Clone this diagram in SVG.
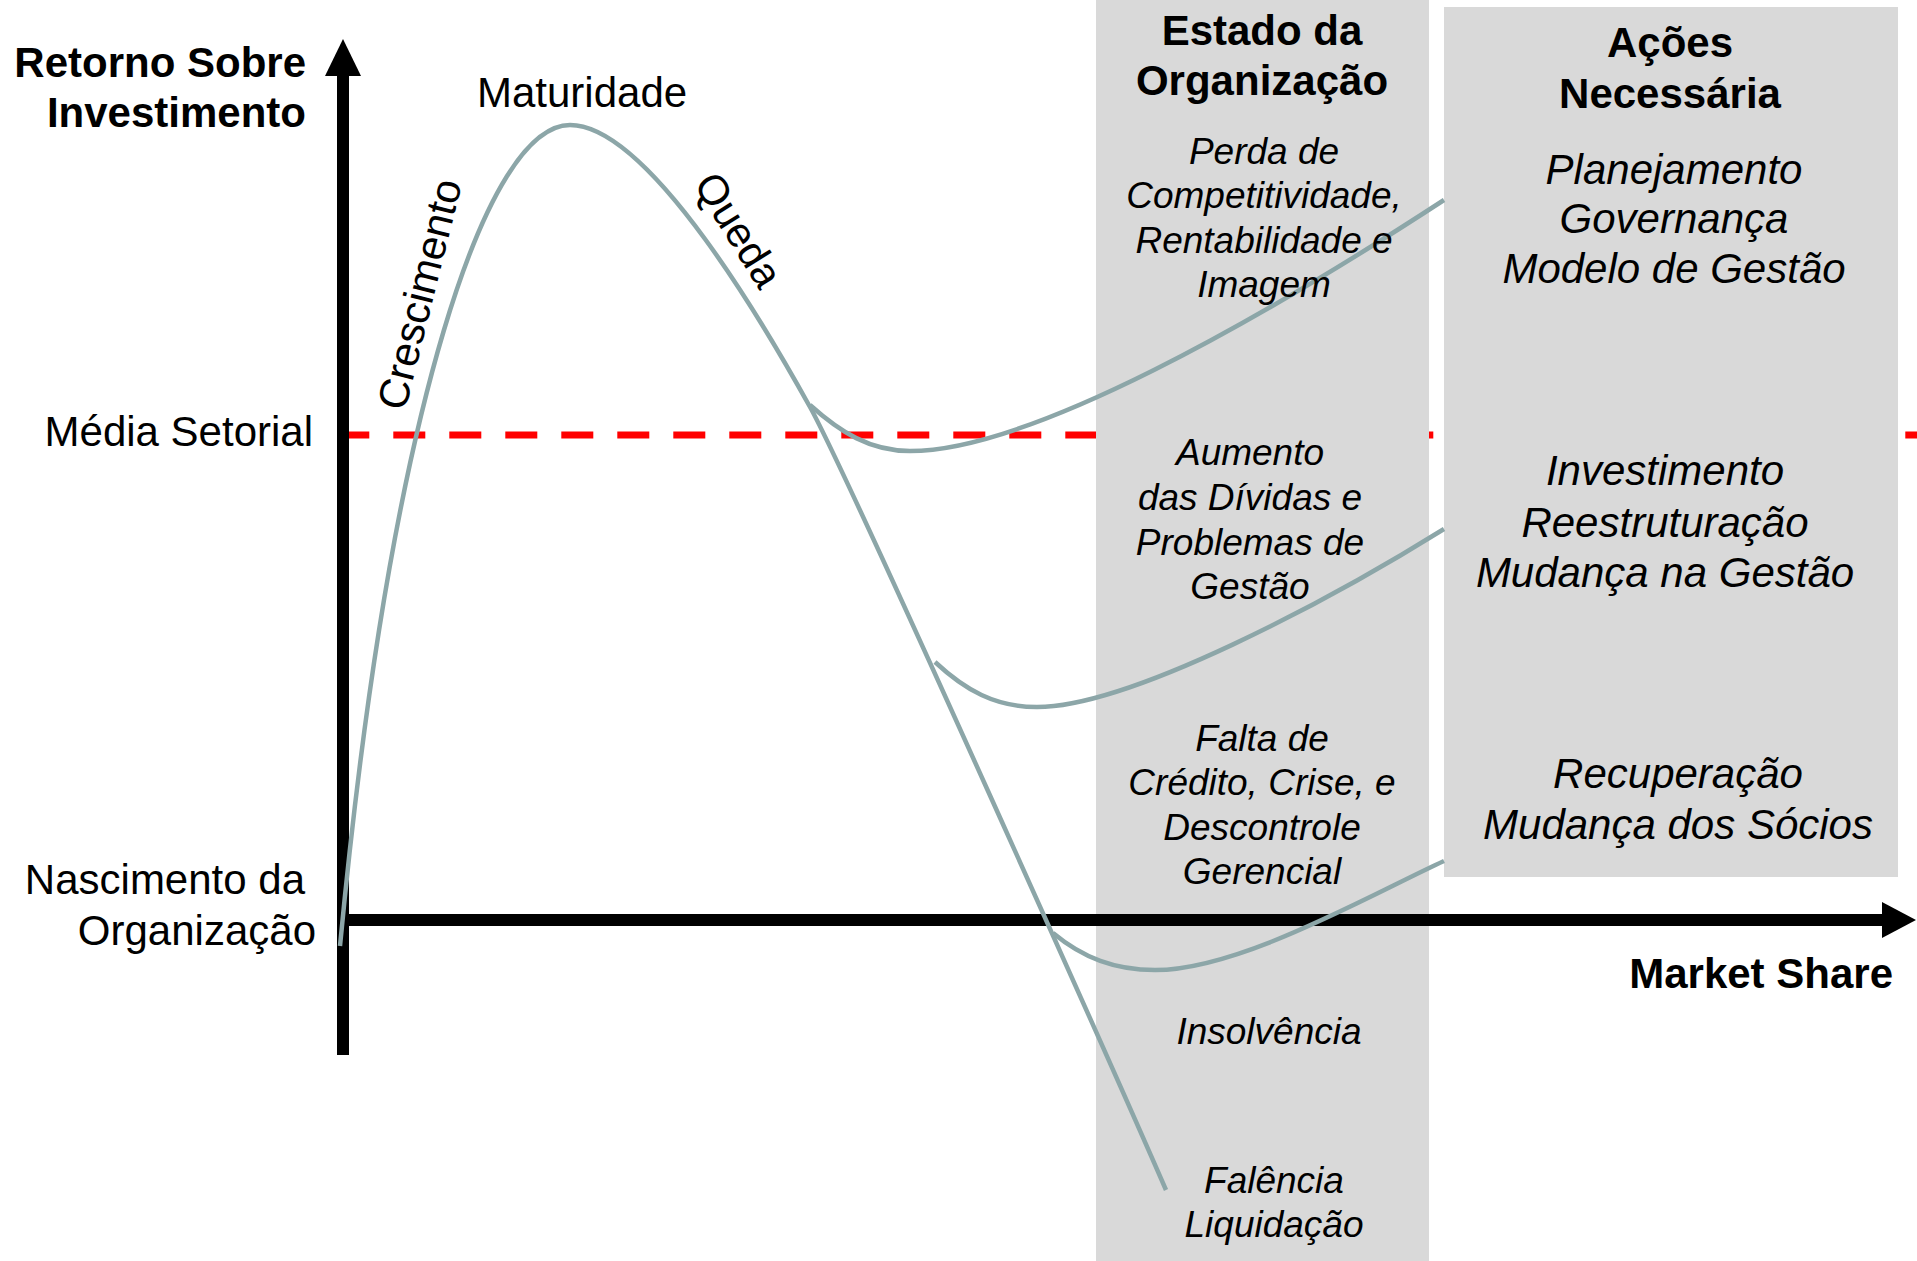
<svg xmlns="http://www.w3.org/2000/svg" width="1917" height="1261" viewBox="0 0 1917 1261">
<style>
text { font-family: "Liberation Sans", Arial, sans-serif; fill: #000; }
.b { font-weight: bold; font-size: 42px; }
.r { font-size: 42px; }
.i { font-style: italic; font-size: 37px; text-anchor: middle; }
.ia { font-style: italic; font-size: 42px; text-anchor: middle; }
.e { text-anchor: end; }
.m { text-anchor: middle; }
.curve { fill: none; stroke: #8CA6A8; stroke-width: 4.5; stroke-linecap: butt; }
.panel { fill: #D9D9D9; }
</style>
<rect width="1917" height="1261" fill="#FFFFFF"/>
<g id="media-setorial-line">
<line x1="337.3" y1="435" x2="1917" y2="435" stroke="#FF0000" stroke-width="7" stroke-dasharray="32 24"/>
</g>
<g id="estado-panel"><rect class="panel" x="1096" y="0" width="333" height="1261"/></g>
<g id="acoes-panel"><rect class="panel" x="1444" y="7" width="454" height="870"/></g>
<g id="axes">
<line x1="343" y1="74" x2="343" y2="1055" stroke="#000" stroke-width="12"/>
<polygon points="343,39 325,76 361,76" fill="#000"/>
<line x1="337" y1="920" x2="1884" y2="920" stroke="#000" stroke-width="12"/>
<polygon points="1916,920 1882,902 1882,938" fill="#000"/>
</g>
<g id="connectors">
<path id="main-curve" class="curve" d="M340,946 C392,400 488,125 570,125 C650,125 770,335 810,407 C850,479 1126,1098 1166,1190"/>
<path id="branch-1" class="curve" d="M810,405 C840,432 870,451 910,451 C1030,451 1260,320 1444,200"/>
<path id="branch-2" class="curve" d="M935,662 C965,690 995,707 1037,707 C1130,707 1330,600 1444,529"/>
<path id="branch-3" class="curve" d="M1053,933 C1083,958 1115,970 1155,970 C1240,970 1370,895 1444,861"/>
</g>
<g id="axis-labels">
<text class="b e" x="306" y="77">Retorno Sobre</text>
<text class="b e" x="306" y="127">Investimento</text>
<text class="r e" x="313" y="446">Média Setorial</text>
<text class="r e" x="305" y="894">Nascimento da</text>
<text class="r e" x="316" y="945">Organização</text>
<text class="b e" x="1893" y="988">Market Share</text>
</g>
<g id="phase-labels">
<text class="r" x="477" y="107">Maturidade</text>
<text class="r" transform="translate(405,412) rotate(-76)">Crescimento</text>
<text class="r" transform="translate(693,184) rotate(58)">Queda</text>
</g>
<g id="estado-texts">
<text class="b m" x="1262" y="45">Estado da</text>
<text class="b m" x="1262" y="95">Organização</text>
<text class="i" x="1264" y="164">Perda de</text>
<text class="i" x="1264" y="208">Competitividade,</text>
<text class="i" x="1264" y="253">Rentabilidade e</text>
<text class="i" x="1264" y="297">Imagem</text>
<text class="i" x="1250" y="465">Aumento</text>
<text class="i" x="1250" y="510">das Dívidas e</text>
<text class="i" x="1250" y="555">Problemas de</text>
<text class="i" x="1250" y="599">Gestão</text>
<text class="i" x="1262" y="751">Falta de</text>
<text class="i" x="1262" y="795">Crédito, Crise, e</text>
<text class="i" x="1262" y="840">Descontrole</text>
<text class="i" x="1262" y="884">Gerencial</text>
<text class="i" x="1269" y="1044">Insolvência</text>
<text class="i" x="1274" y="1193">Falência</text>
<text class="i" x="1274" y="1237">Liquidação</text>
</g>
<g id="acoes-texts">
<text class="b m" x="1670" y="57">Ações</text>
<text class="b m" x="1670" y="108">Necessária</text>
<text class="ia" x="1674" y="184">Planejamento</text>
<text class="ia" x="1674" y="233">Governança</text>
<text class="ia" x="1674" y="283">Modelo de Gestão</text>
<text class="ia" x="1665" y="485">Investimento</text>
<text class="ia" x="1665" y="537">Reestruturação</text>
<text class="ia" x="1665" y="587">Mudança na Gestão</text>
<text class="ia" x="1678" y="788">Recuperação</text>
<text class="ia" x="1678" y="839">Mudança dos Sócios</text>
</g>
</svg>
